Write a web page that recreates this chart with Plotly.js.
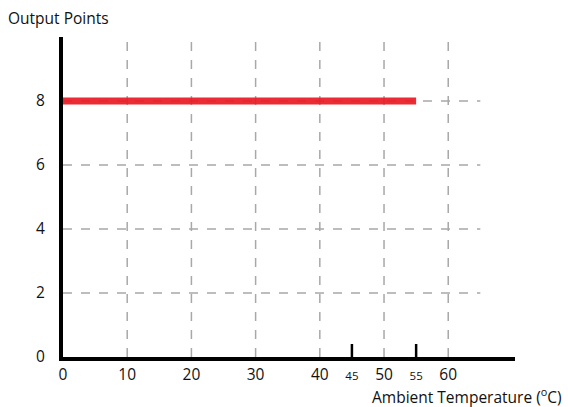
<!DOCTYPE html>
<html>
<head>
<meta charset="utf-8">
<script src="https://cdn.plot.ly/plotly-3.0.1.min.js"></script>
<style>html,body{margin:0;padding:0;background:#fff;}#chart{width:568px;height:407px;}</style>
</head>
<body>
<div id="chart"></div>
<script>
// Data
const lineX = [0, 55];
const lineY = [8, 8];
const xTickVals = [0, 10, 20, 30, 40, 45, 50, 55, 60];
const xTickText = ['0', '10', '20', '30', '40', '45', '50', '55', '60'];
const smallTicks = [45, 55];
const yTickVals = [0, 2, 4, 6, 8];
const yTickText = ['0', '2', '4', '6', '8'];
const gridX = [10, 20, 30, 40, 50, 60];
const gridY = [2, 4, 6, 8];
const gridYEnd = 65;
const xRange = [0, 70.4];
const yRange = [0, 10];

const FONT = 'Open Sans, Noto Sans, sans-serif';
const FS = 15.5;

const tickText = xTickVals.map((v, i) =>
  smallTicks.includes(v) ? '<span style="font-size:11.5px">' + xTickText[i] + '</span>' : xTickText[i]);

const gridStyle = {color: '#a8a8a8', width: 1.5, dash: 'dash'};
const shapes = [];
gridX.forEach(v => shapes.push({type: 'line', xref: 'x', yref: 'y', x0: v, x1: v, y0: yRange[0], y1: yRange[1], line: gridStyle, layer: 'below'}));
gridY.forEach(v => shapes.push({type: 'line', xref: 'x', yref: 'y', x0: 0, x1: gridYEnd, y0: v, y1: v, line: gridStyle, layer: 'below'}));
smallTicks.forEach(v => shapes.push({type: 'line', xref: 'x', yref: 'y', ysizemode: 'pixel', yanchor: 0, x0: v, x1: v, y0: 0, y1: 13, line: {color: '#000', width: 2.5}, layer: 'above'}));

const data = [{
  x: lineX, y: lineY, type: 'scatter', mode: 'lines',
  line: {color: 'rgba(234,26,36,0.92)', width: 7},
  hoverinfo: 'skip', showlegend: false
}];

const layout = {
  width: 568, height: 407,
  margin: {l: 63, r: 53, t: 37, b: 50},
  paper_bgcolor: '#fff', plot_bgcolor: '#fff',
  font: {family: FONT, size: FS, color: '#111'},
  showlegend: false,
  xaxis: {
    range: xRange, tickvals: xTickVals, ticktext: tickText,
    ticks: 'outside', ticklen: 1, tickcolor: 'rgba(0,0,0,0)',
    showgrid: false, zeroline: false,
    showline: true, linecolor: '#000', linewidth: 3.5,
    tickfont: {family: FONT, size: FS, color: '#111'}, fixedrange: true
  },
  yaxis: {
    range: yRange, tickvals: yTickVals, ticktext: yTickText,
    ticks: 'outside', ticklen: 11, tickcolor: 'rgba(0,0,0,0)',
    showgrid: false, zeroline: false,
    showline: true, linecolor: '#000', linewidth: 4,
    tickfont: {family: FONT, size: FS, color: '#111'}, fixedrange: true
  },
  shapes: shapes,
  annotations: [
    {xref: 'paper', yref: 'paper', x: -57/452, y: 1 + 19/320, xanchor: 'left', yanchor: 'middle',
     text: 'Output Points', showarrow: false, font: {family: FONT, size: FS, color: '#111'}},
    {xref: 'paper', yref: 'paper', x: 1 + 49/452, y: -39/320, xanchor: 'right', yanchor: 'middle',
     text: 'Ambient Temperature (<sup>o</sup>C)', showarrow: false, font: {family: FONT, size: FS, color: '#111'}}
  ]
};

Plotly.newPlot('chart', data, layout, {displayModeBar: false, staticPlot: true});
</script>
</body>
</html>
